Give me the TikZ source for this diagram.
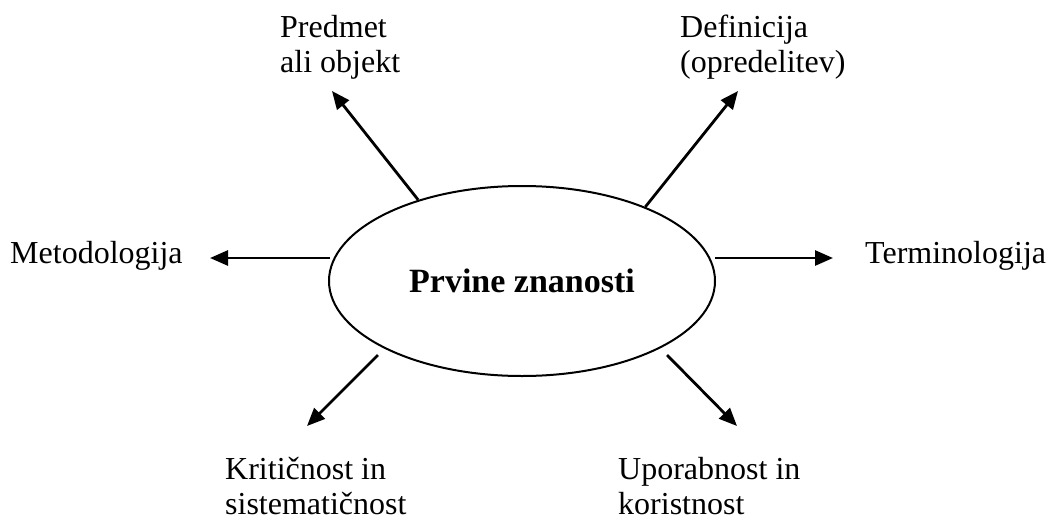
\documentclass[tikz,border=0pt]{standalone}
\usepackage{fontspec}
\setmainfont{Liberation Serif}
\usetikzlibrary{arrows.meta,shapes.geometric}
\begin{document}
\begin{tikzpicture}[x=1pt,y=-1pt,
  lbl/.style={anchor=base west,inner sep=0pt,align=left,
    font=\fontsize{32}{35}\selectfont},
  hub/.style={ellipse,draw,line width=2pt,minimum width=386pt,
    minimum height=190pt,inner sep=0pt,
    font=\fontsize{34}{38}\selectfont\bfseries},
  arr/.style={line width=2.8pt,-{Triangle[length=18pt,width=15pt]}}]
\useasboundingbox (0,0) rectangle (1050,520);
% central ellipse
\node[hub] (e) at (522,281) {Prvine znanosti};
% labels (anchored on the baseline of their last line)
\node[lbl] (pred) at (280,72) {Predmet\\ali objekt};
\node[lbl] (def) at (680,72) {Definicija\\(opredelitev)};
\node[lbl] (met) at (10,263) {Metodologija};
\node[lbl] (term) at (865,263) {Terminologija};
\node[lbl] (krit) at (225,514) {Kritičnost in\\sistematičnost};
\node[lbl] (upor) at (618,514) {Uporabnost in\\koristnost};
% arrow ends
\coordinate (ulT) at (332,91);
\coordinate (urT) at (738,91);
\coordinate (lS) at (330,258);
\coordinate (lT) at (210,258);
\coordinate (rS) at (715,258);
\coordinate (rT) at (833,258);
\coordinate (llS) at (378,355);
\coordinate (llT) at (307,426);
\coordinate (lrS) at (667,355);
\coordinate (lrT) at (737,426);
% arrows
\draw[arr] (e.142) -- (ulT);
\draw[arr] (e.31) -- (urT);
\draw[arr] (lS) -- (lT);
\draw[arr] (rS) -- (rT);
\draw[arr] (llS) -- (llT);
\draw[arr] (lrS) -- (lrT);
\end{tikzpicture}
\end{document}
